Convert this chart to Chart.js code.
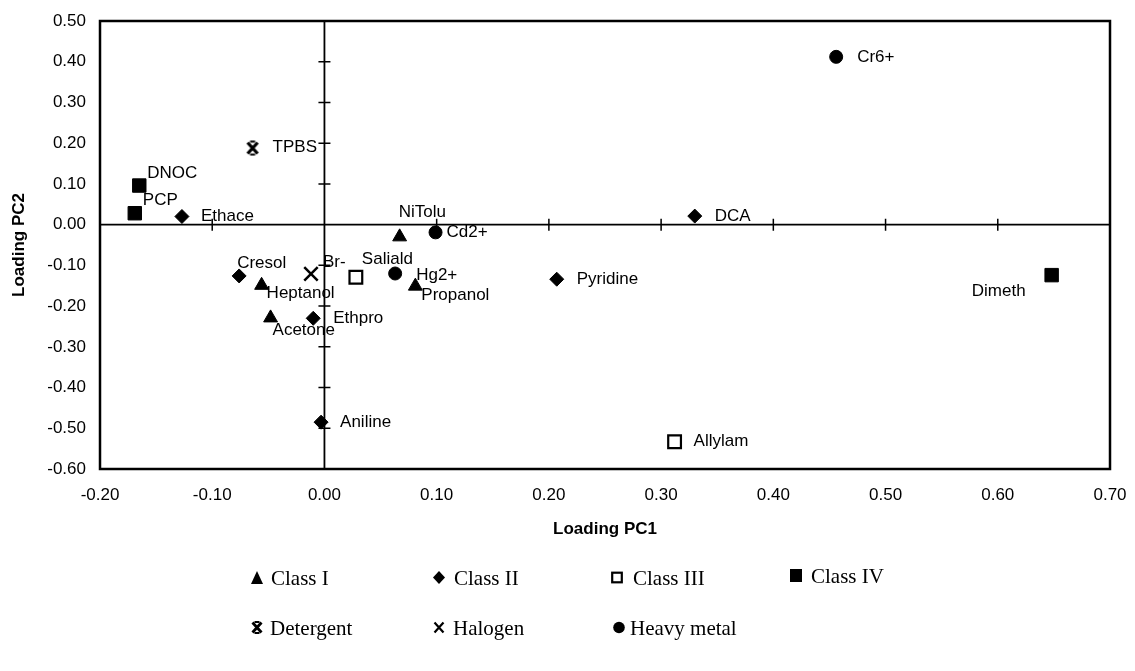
<!DOCTYPE html>
<html>
<head>
<meta charset="utf-8">
<script src="https://cdn.jsdelivr.net/npm/chart.js@4.4.1/dist/chart.umd.min.js"></script>
<style>
html,body{margin:0;padding:0;background:#fff;}
#wrap{position:relative;width:1135px;height:671px;overflow:hidden;background:#fff;}
#c{position:absolute;left:0;top:0;}
.leg{position:absolute;height:24px;font-family:"Liberation Serif","Times New Roman",serif;font-size:21px;line-height:24px;color:#000;white-space:nowrap;}
.leg svg{position:absolute;top:5px;}
.leg span{position:absolute;top:0;}
</style>
</head>
<body>
<div id="wrap">
<canvas id="c" width="1135" height="671"></canvas>
<div id="legend"></div>
</div>
<script>
// ---------------- DATA ----------------
const classINames = ['NiTolu', 'Propanol', 'Heptanol', 'Acetone'];
const classIPC1   = [0.067, 0.081, -0.056, -0.048];
const classIPC2   = [-0.030, -0.151, -0.149, -0.229];

const classIINames = ['Ethace', 'Cresol', 'Ethpro', 'Aniline', 'Pyridine', 'DCA'];
const classIIPC1   = [-0.127, -0.076, -0.010, -0.003, 0.207, 0.330];
const classIIPC2   = [0.020, -0.126, -0.230, -0.485, -0.134, 0.021];

const classIIINames = ['Saliald', 'Allylam'];
const classIIIPC1   = [0.028, 0.312];
const classIIIPC2   = [-0.129, -0.533];

const classIVNames = ['DNOC', 'PCP', 'Dimeth'];
const classIVPC1   = [-0.165, -0.169, 0.648];
const classIVPC2   = [0.096, 0.028, -0.124];

const detergentNames = ['TPBS'];
const detergentPC1   = [-0.064];
const detergentPC2   = [0.188];

const halogenNames = ['Br-'];
const halogenPC1   = [-0.012];
const halogenPC2   = [-0.121];

const metalNames = ['Cd2+', 'Hg2+', 'Cr6+'];
const metalPC1   = [0.099, 0.063, 0.456];
const metalPC2   = [-0.019, -0.120, 0.412];

const seriesNames = ['Class I', 'Class II', 'Class III', 'Class IV', 'Detergent', 'Halogen', 'Heavy metal'];
const xTickMin = -0.2, xTickMax = 0.7, yTickMin = -0.6, yTickMax = 0.5, tickStep = 0.1;

// ---------------- LAYOUT / STYLE ----------------
const SANS = '"Liberation Sans", Arial, Helvetica, sans-serif';
const labelPlacement = {
  'TPBS': {dx: 20, dy: -1}, 'DNOC': {dx: 8, dy: -12}, 'PCP': {dx: 8, dy: -13},
  'Ethace': {dx: 19, dy: 0}, 'NiTolu': {dx: -1, dy: -25}, 'Cd2+': {dx: 11, dy: 0},
  'Br-': {dx: 12, dy: -12}, 'Saliald': {dx: 6, dy: -18}, 'Hg2+': {dx: 21, dy: 2},
  'Propanol': {dx: 6, dy: 9}, 'Pyridine': {dx: 20, dy: 0}, 'Cresol': {dx: -2, dy: -13},
  'Heptanol': {dx: 5, dy: 8}, 'Acetone': {dx: 2, dy: 12}, 'Ethpro': {dx: 20, dy: 0},
  'Aniline': {dx: 19, dy: 0}, 'Allylam': {dx: 19, dy: 0}, 'Dimeth': {dx: -26, dy: 16, align: 'right'},
  'DCA': {dx: 20, dy: 0}, 'Cr6+': {dx: 21, dy: 0}
};

function pts(names, xs, ys) {
  return names.map((n, i) => ({x: xs[i], y: ys[i], name: n}));
}

function fmt(v) {
  const n = Number(v);
  return (Math.abs(n) < 1e-9 ? 0 : n).toFixed(2);
}

function detergentMarker() {
  const c = document.createElement('canvas');
  c.width = 14; c.height = 16;
  const g = c.getContext('2d');
  g.strokeStyle = '#000'; g.lineWidth = 3.2; g.lineCap = 'butt';
  g.beginPath();
  g.moveTo(2, 2.5); g.lineTo(12, 13.5);
  g.moveTo(12, 2.5); g.lineTo(2, 13.5);
  g.stroke();
  g.lineWidth = 2.2;
  g.beginPath();
  g.moveTo(4.5, 1.5); g.lineTo(9.5, 1.5);
  g.moveTo(4.5, 14.5); g.lineTo(9.5, 14.5);
  g.stroke();
  return c;
}

const datasets = [
  {label: seriesNames[0], data: pts(classINames, classIPC1, classIPC2), pointStyle: 'triangle', pointRadius: 8,
   backgroundColor: '#000', borderColor: '#000', borderWidth: 1},
  {label: seriesNames[1], data: pts(classIINames, classIIPC1, classIIPC2), pointStyle: 'rectRot', pointRadius: 7,
   backgroundColor: '#000', borderColor: '#000', borderWidth: 1},
  {label: seriesNames[2], data: pts(classIIINames, classIIIPC1, classIIIPC2), pointStyle: 'rect', pointRadius: 9,
   backgroundColor: '#fff', borderColor: '#000', borderWidth: 2.2},
  {label: seriesNames[3], data: pts(classIVNames, classIVPC1, classIVPC2), pointStyle: 'rect', pointRadius: 9.5,
   backgroundColor: '#000', borderColor: '#000', borderWidth: 1},
  {label: seriesNames[4], data: pts(detergentNames, detergentPC1, detergentPC2), pointStyle: detergentMarker(), pointRadius: 7,
   backgroundColor: '#000', borderColor: '#000', borderWidth: 1},
  {label: seriesNames[5], data: pts(halogenNames, halogenPC1, halogenPC2), pointStyle: 'crossRot', pointRadius: 9.5,
   backgroundColor: '#000', borderColor: '#000', borderWidth: 2.5},
  {label: seriesNames[6], data: pts(metalNames, metalPC1, metalPC2), pointStyle: 'circle', pointRadius: 6.5,
   backgroundColor: '#000', borderColor: '#000', borderWidth: 1}
];

const crossAxes = {
  id: 'crossAxes',
  beforeDatasetsDraw(chart) {
    const {ctx, chartArea: a, scales: {x, y}} = chart;
    const x0 = x.getPixelForValue(0), y0 = y.getPixelForValue(0);
    ctx.save();
    ctx.strokeStyle = '#000';
    ctx.lineWidth = 1.8;
    ctx.beginPath();
    ctx.moveTo(a.left, y0); ctx.lineTo(a.right, y0);
    ctx.moveTo(x0, a.top); ctx.lineTo(x0, a.bottom);
    ctx.stroke();
    ctx.lineWidth = 1.5;
    ctx.beginPath();
    x.ticks.forEach(t => {
      if (Math.abs(t.value) < 1e-9 || Math.abs(t.value - x.min) < 1e-9 || Math.abs(t.value - x.max) < 1e-9) return;
      const px = x.getPixelForValue(t.value);
      ctx.moveTo(px, y0 - 6); ctx.lineTo(px, y0 + 6);
    });
    y.ticks.forEach(t => {
      if (Math.abs(t.value) < 1e-9 || Math.abs(t.value - y.min) < 1e-9 || Math.abs(t.value - y.max) < 1e-9) return;
      const py = y.getPixelForValue(t.value);
      ctx.moveTo(x0 - 6, py); ctx.lineTo(x0 + 6, py);
    });
    ctx.stroke();
    ctx.lineWidth = 2.5;
    ctx.strokeRect(a.left, a.top, a.right - a.left, a.bottom - a.top);
    ctx.restore();
  }
};

const pointLabels = {
  id: 'pointLabels',
  afterDatasetsDraw(chart) {
    const ctx = chart.ctx;
    ctx.save();
    ctx.font = '17px ' + SANS;
    ctx.fillStyle = '#000';
    ctx.textBaseline = 'middle';
    chart.data.datasets.forEach((ds, i) => {
      const meta = chart.getDatasetMeta(i);
      meta.data.forEach((el, j) => {
        const name = ds.data[j].name;
        const p = labelPlacement[name] || {dx: 18, dy: 0};
        ctx.textAlign = p.align || 'left';
        ctx.fillText(name, el.x + p.dx, el.y + p.dy);
      });
    });
    ctx.restore();
  }
};

Chart.defaults.font.family = SANS;
Chart.defaults.color = '#000';

new Chart(document.getElementById('c'), {
  type: 'scatter',
  data: {datasets},
  options: {
    responsive: false,
    animation: false,
    devicePixelRatio: 1,
    layout: {padding: {left: 0, right: 25, top: 21, bottom: 0}},
    plugins: {legend: {display: false}, tooltip: {enabled: false}},
    scales: {
      x: {
        type: 'linear', min: xTickMin, max: xTickMax,
        ticks: {stepSize: tickStep, callback: v => fmt(v), color: '#000',
                font: {size: 17, family: SANS}, padding: 16, maxRotation: 0, autoSkip: false},
        grid: {display: false, drawTicks: false},
        border: {display: false},
        title: {display: true, text: 'Loading PC1', color: '#000',
                font: {size: 17, weight: 'bold', family: SANS}, padding: {top: 0, bottom: 131}},
        afterFit: s => { s.height = 202; s.paddingLeft = 0; s.paddingRight = 0; }
      },
      y: {
        type: 'linear', min: yTickMin, max: yTickMax,
        ticks: {stepSize: tickStep, callback: v => fmt(v), color: '#000',
                font: {size: 17, family: SANS}, padding: 14, autoSkip: false},
        grid: {display: false, drawTicks: false},
        border: {display: false},
        title: {display: true, text: 'Loading PC2', color: '#000',
                font: {size: 17, weight: 'bold', family: SANS}, padding: {top: 9, bottom: 0}},
        afterFit: s => { s.width = 100; s.paddingTop = 0; s.paddingBottom = 0; }
      }
    }
  },
  plugins: [crossAxes, pointLabels]
});

// ---------------- LEGEND (HTML) ----------------
const legendSlots = [
  {mx: 257, tx: 271, cy: 578}, {mx: 439, tx: 454, cy: 578}, {mx: 617, tx: 633, cy: 578}, {mx: 796, tx: 811, cy: 576},
  {mx: 257, tx: 270, cy: 628}, {mx: 439, tx: 453, cy: 628}, {mx: 619, tx: 630, cy: 628}
];
const legendIcons = [
  '<svg width="12" height="13" viewBox="0 0 12 13"><polygon points="6,0 12,13 0,13" fill="#000"/></svg>',
  '<svg width="12" height="13" viewBox="0 0 12 13"><polygon points="6,0 12,6.5 6,13 0,6.5" fill="#000"/></svg>',
  '<svg width="12" height="13" viewBox="0 0 12 13"><rect x="1.2" y="1.7" width="9.6" height="9.6" fill="#fff" stroke="#000" stroke-width="2.2"/></svg>',
  '<svg width="12" height="13" viewBox="0 0 12 13"><rect x="0" y="0" width="12" height="13" fill="#000"/></svg>',
  '<svg width="12" height="13" viewBox="0 0 12 13"><path d="M1.5 1.5 L10.5 11.5 M10.5 1.5 L1.5 11.5" stroke="#000" stroke-width="2.8"/><path d="M3.5 1 L8.5 1 M3.5 12 L8.5 12" stroke="#000" stroke-width="2"/></svg>',
  '<svg width="12" height="13" viewBox="0 0 12 13"><path d="M1.5 1.5 L10.5 11.5 M10.5 1.5 L1.5 11.5" stroke="#000" stroke-width="2.2"/></svg>',
  '<svg width="12" height="13" viewBox="0 0 12 13"><circle cx="6" cy="6.5" r="5.8" fill="#000"/></svg>'
];
const legendEl = document.getElementById('legend');
seriesNames.forEach((name, i) => {
  const s = legendSlots[i];
  const d = document.createElement('div');
  d.className = 'leg';
  d.style.left = (s.mx - 6) + 'px';
  d.style.top = (s.cy - 12) + 'px';
  d.innerHTML = legendIcons[i].replace('<svg', '<svg style="left:0px"') +
    '<span style="left:' + (s.tx - s.mx + 6) + 'px">' + name + '</span>';
  legendEl.appendChild(d);
});
</script>
</body>
</html>
